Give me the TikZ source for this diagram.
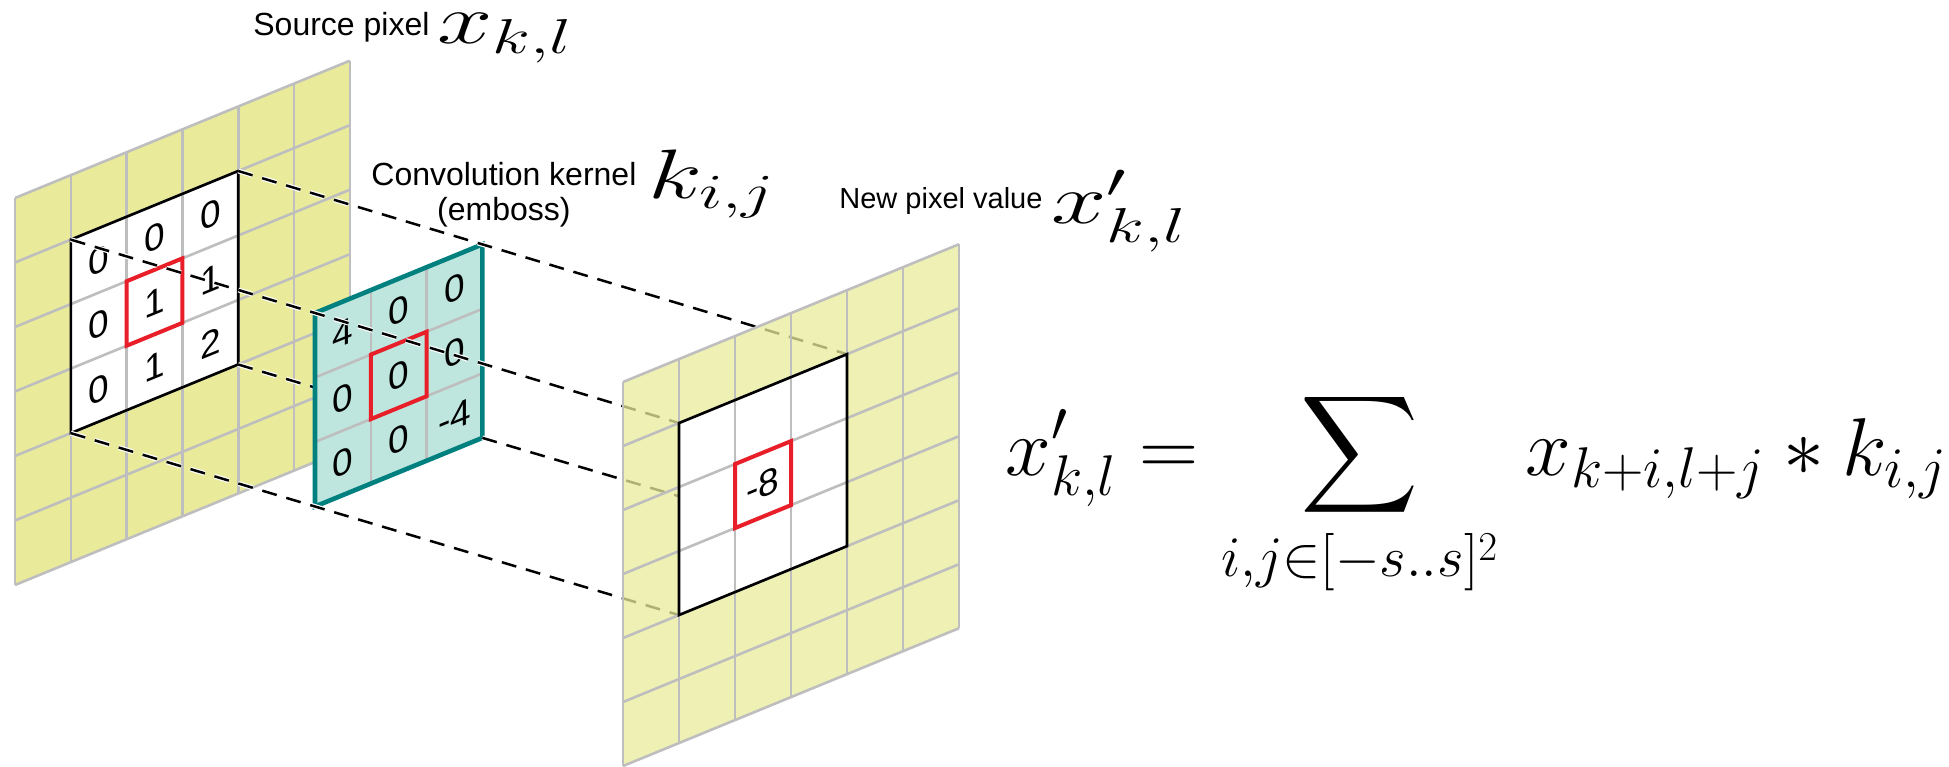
\RequirePackage{fix-cm}
\documentclass[tikz,border=0pt]{standalone}
\usepackage{amsmath}
\usepackage{amssymb}
\usepackage{fontspec}
\setsansfont{Liberation Sans}
\usepackage{xcolor}
\usepackage{tikz}
\usetikzlibrary{positioning,calc}

\definecolor{pixyellow}{RGB}{233,235,155}
\definecolor{gridgray}{RGB}{190,190,190}
\definecolor{kernteal}{RGB}{0,128,126}
\definecolor{kernfill}{RGB}{190,230,222}
\definecolor{markred}{RGB}{232,30,40}

\begin{document}
\begin{tikzpicture}[
        x=0.5pt, y=-0.5pt,
        srcplane/.style={shift={(15,198)}, x=27.9pt, y=-32.25pt, yslant=0.41},
        kerplane/.style={shift={(315,313)}, x=27.9pt, y=-32.25pt, yslant=0.41},
        newplane/.style={shift={(623,382)}, x=28pt, y=-32pt, yslant=0.41},
        gridline/.style={draw=gridgray, line width=1.3pt},
        window/.style={draw=black, line width=1.3pt},
        marker/.style={draw=markred, line width=2pt, line join=miter},
        kernborder/.style={draw=kernteal, line width=2.3pt, line join=miter},
        digit/.style={font=\sffamily\fontsize{18.5}{18.5}\selectfont, inner sep=0pt, transform shape},
        link/.style={dash pattern=on 7.5pt off 5pt, draw=white, double=black, line width=0.6pt, double distance=1.25pt},
        caption/.style={font=\sffamily\fontsize{16}{19}\selectfont, inner sep=0pt},
        smallcaption/.style={font=\sffamily\fontsize{14.5}{17}\selectfont, inner sep=0pt},
        symbol/.style={font=\fontsize{35}{40}\selectfont, inner sep=0pt, xscale=1.42},
        formula/.style={font=\fontsize{41}{48}\selectfont, inner sep=0pt}
    ]
    \useasboundingbox (0,0) rectangle (1949,766);

    % Corner points of the three windows
    \begin{scope}[srcplane]
        \coordinate (src-tl) at (1,1);
        \coordinate (src-tr) at (4,1);
        \coordinate (src-br) at (4,4);
        \coordinate (src-bl) at (1,4);
    \end{scope}
    \begin{scope}[kerplane]
        \coordinate (ker-tl) at (0,0);
        \coordinate (ker-tr) at (3,0);
        \coordinate (ker-br) at (3,3);
        \coordinate (ker-bl) at (0,3);
    \end{scope}
    \begin{scope}[newplane]
        \coordinate (new-tl) at (1,1);
        \coordinate (new-tr) at (4,1);
        \coordinate (new-br) at (4,4);
        \coordinate (new-bl) at (1,4);
    \end{scope}

    % Source image
    \begin{scope}[srcplane]
        \fill [pixyellow] (0,0) rectangle (6,6);
        \fill [white] (1,1) rectangle (4,4);
        \foreach \i in {0,...,6} {
            \draw [gridline] (\i,0) -- (\i,6);
            \draw [gridline] (0,\i) -- (6,\i);
        }
        \draw [window] (1,1) rectangle (4,4);
        \foreach \u/\v/\val in {1/1/0, 2/1/0, 3/1/0, 1/2/0, 2/2/1, 3/2/1, 1/3/0, 2/3/1, 3/3/2}
            \node [digit] at (\u+0.5,\v+0.5) {\val};
        \draw [marker] (2,2) rectangle (3,3);
    \end{scope}

    % Hidden part of the lower right link
    \draw [link] (src-br) -- (ker-br);

    % Kernel
    \begin{scope}[kerplane]
        \fill [kernfill] (0,0) rectangle (3,3);
        \foreach \i in {1,2} {
            \draw [gridline] (\i,0) -- (\i,3);
            \draw [gridline] (0,\i) -- (3,\i);
        }
        \foreach \u/\v/\val in {0/0/4, 1/0/0, 2/0/0, 0/1/0, 1/1/0, 2/1/0, 0/2/0, 1/2/0, 2/2/-4}
            \node [digit] at (\u+0.5,\v+0.5) {\val};
        \draw [marker] (1,1) rectangle (2,2);
        \draw [kernborder] (0,0) rectangle (3,3);
    \end{scope}

    % Links from source through kernel to target
    \draw [link] (src-tl) -- (ker-tl) -- (new-tl);
    \draw [link] (src-tr) -- (ker-tr) -- (new-tr);
    \draw [link] (src-bl) -- (ker-bl) -- (new-bl);
    \draw [link] (ker-br) -- (new-br);

    % Target image
    \begin{scope}[newplane]
        \fill [pixyellow, fill opacity=0.75] (0,0) rectangle (6,6);
        \fill [white] (1,1) rectangle (4,4);
        \foreach \i in {0,...,6} {
            \draw [gridline] (\i,0) -- (\i,6);
            \draw [gridline] (0,\i) -- (6,\i);
        }
        \draw [window] (1,1) rectangle (4,4);
        \node [digit] at (2.5,2.5) {-8};
        \draw [marker] (2,2) rectangle (3,3);
    \end{scope}

    % Labels
    \node [caption, anchor=base west] (srctxt) at (253,35) {Source pixel};
    \node [symbol, base right=3.5pt of srctxt, yshift=-4pt] (srcsym) {$x_{k,l}$};

    \node [caption, anchor=base west] (kertxt) at (371,185) {Convolution kernel};
    \node [caption, anchor=base] (embtxt) at ([yshift=-17.5pt]kertxt.base) {(emboss)};
    \node [symbol, base right=5.5pt of kertxt, yshift=-6.5pt] (kersym) {$k_{i,j}$};

    \node [smallcaption, anchor=base west] (newtxt) at (839,208) {New pixel value};
    \node [symbol, base right=4pt of newtxt, yshift=-7.5pt] (newsym) {$x'_{k,l}$};

    % Convolution sum
    \node [formula, anchor=base west] (conv) at (1005,475)
        {$\displaystyle x'_{k,l} = \sum_{i,j\in[-s..s]^2} \, x_{k+i,l+j} * k_{i,j}$};

\end{tikzpicture}
\end{document}
